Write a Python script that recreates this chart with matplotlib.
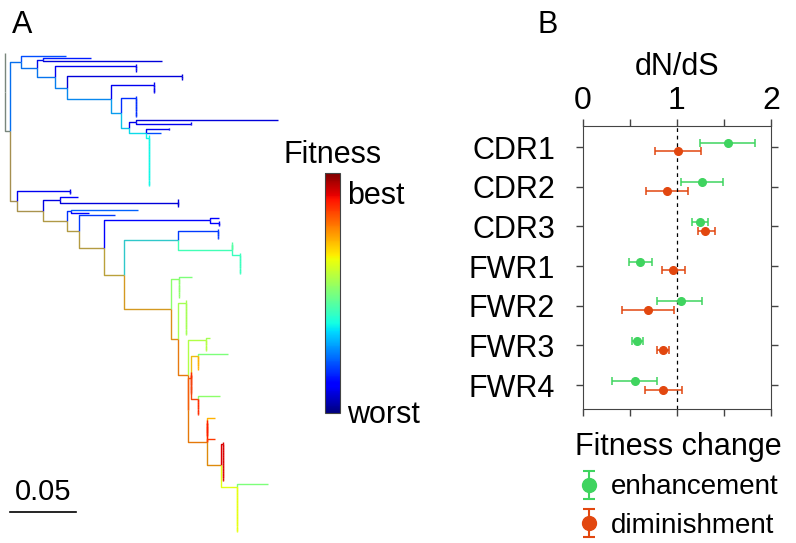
import numpy as np
import matplotlib
matplotlib.use("Agg")
import matplotlib.pyplot as plt
from matplotlib.collections import LineCollection
from matplotlib import transforms

plt.rcParams['font.family'] = ['Liberation Sans', 'DejaVu Sans']

# ---------------- panel B data ----------------
regions = ["CDR1", "CDR2", "CDR3", "FWR1", "FWR2", "FWR3", "FWR4"]
enh_mean = [1.54, 1.27, 1.24, 0.61, 1.04, 0.57, 0.55]
enh_lo = [1.24, 1.04, 1.16, 0.49, 0.79, 0.52, 0.31]
enh_hi = [1.83, 1.49, 1.33, 0.73, 1.27, 0.64, 0.79]
dim_mean = [1.01, 0.89, 1.30, 0.96, 0.69, 0.85, 0.85]
dim_lo = [0.77, 0.67, 1.22, 0.84, 0.41, 0.79, 0.66]
dim_hi = [1.26, 1.12, 1.40, 1.09, 0.97, 0.91, 1.05]

GREEN = "#3fd45f"
ORANGE = "#e2470f"


# ---------------- panel A tree ----------------
# branch lengths in substitutions per site, fitness on a 0 (worst) .. 1 (best) scale
def leaf(L, f):
    return {"len": L, "f": f, "kids": []}


def node(L, *kids):
    return {"len": L, "f": None, "kids": list(kids)}


def comb(L, k, f):
    # ladder of k near-identical sequences
    sub = leaf(0, f)
    for _ in range(k - 1):
        sub = node(0, leaf(0, f), sub)
    sub["len"] = L
    return sub


def star(L, k, f):
    return node(L, *[leaf(0, f) for _ in range(k)])


upper_clade = node(0.008,
    leaf(0.034, 0.20),
    node(0.012,
        node(0.005, leaf(0.036, 0.15), leaf(0.090, 0.08)),
        node(0.014,
            comb(0.061, 4, 0.10),
            node(0.009,
                comb(0.087, 3, 0.08),
                node(0.033,
                    comb(0.033, 5, 0.10),
                    node(0.008,
                        comb(0.011, 9, 0.17),
                        node(0.006,
                            node(0.005, leaf(0.108, 0.08), star(0.042, 2, 0.10)),
                            node(0.013,
                                star(0.017, 2, 0.10),
                                leaf(0.011, 0.20),
                                comb(0.002, 20, 0.37)))))))))

blue_lower = [
    comb(0.040, 3, 0.10),
    node(0.020,
        node(0.013, leaf(0.013, 0.12), star(0.089, 4, 0.08)),
        None),
]

green_clade = node(0.041,
    comb(0.030, 5, 0.18),
    node(0.041, comb(0, 4, 0.45), comb(0.006, 9, 0.42)))

red_clade = node(0.036,
    node(0.006, leaf(0.010, 0.50), comb(0, 8, 0.52)),
    node(0.005,
        comb(0.006, 14, 0.55),
        node(0.008,
            node(0.013, leaf(0.003, 0.55), comb(0, 5, 0.57)),
            node(0,
                node(0.002,
                    node(0.005, leaf(0.023, 0.50), comb(0, 6, 0.72)),
                    comb(0, 9, 0.87),
                    node(0.005, leaf(0.017, 0.52), comb(0, 7, 0.86))),
                node(0.014,
                    leaf(0.006, 0.72),
                    comb(0, 7, 0.88),
                    leaf(0.006, 0.85),
                    node(0.011,
                        comb(0.001, 16, 0.92),
                        node(0.012, leaf(0.023, 0.50), comb(0, 18, 0.63))))))))

blue_lower[1]["kids"][1] = node(0.018,
    node(0.003, leaf(0.051, 0.22), leaf(0.014, 0.12)),
    node(0.009,
        leaf(0.027, 0.18),
        node(0.019,
            node(0.080, leaf(0.007, 0.12), comb(0.007, 3, 0.12)),
            node(0.015, green_clade, red_clade))))

lower_clade = node(0.005, *blue_lower)
tree = node(0, leaf(0, None), node(0.004, upper_clade, lower_clade))

cmap = plt.get_cmap("jet")
leaf_count = [0]


def layout(n, x):
    n["x"] = x + n["len"]
    if not n["kids"]:
        n["y"] = leaf_count[0]
        leaf_count[0] += 1
        n["rgb"] = None if n["f"] is None else np.array(cmap(n["f"])[:3])
        return [n["rgb"]] if n["rgb"] is not None else []
    cols = []
    for k in n["kids"]:
        cols += layout(k, n["x"])
    n["y"] = (n["kids"][0]["y"] + n["kids"][-1]["y"]) / 2
    n["rgb"] = np.mean(cols, axis=0)
    return cols


layout(tree, 0)
segs, seg_cols = [], []


def collect(n):
    for k in n["kids"]:
        c = k["rgb"] if k["rgb"] is not None else n["rgb"]
        segs.append([(n["x"], n["y"]), (n["x"], k["y"]), (k["x"], k["y"])])
        seg_cols.append(c)
        collect(k)


collect(tree)
n_leaves = leaf_count[0]

fig = plt.figure(figsize=(7.96, 5.43), dpi=100)
W, H = 796, 543

ax_t = fig.add_axes([0, 0, 0.4, 1])
ppu = 66 / 0.05
s = (532 - 53) / (n_leaves - 1)
ax_t.add_collection(LineCollection(segs, colors=seg_cols, linewidths=1.0))
ax_t.set_xlim(-5 / ppu, (0.4 * W - 5) / ppu)
ax_t.set_ylim((H - 53) / s, -53 / s)
ax_t.axis("off")

# scale bar
tr = transforms.blended_transform_factory(ax_t.transData, ax_t.transAxes)
x0 = 5 / ppu
ax_t.plot([x0, x0 + 0.05], [1 - 512 / H] * 2, color="black", lw=1.2, transform=tr)
ax_t.text(x0 + 0.025, 1 - 500 / H, "0.05", ha="center", va="baseline",
          fontsize=21, transform=tr)

# colorbar
cax = fig.add_axes([325 / W, 1 - 413 / H, 15 / W, 240 / H])
cb = fig.colorbar(plt.cm.ScalarMappable(cmap=cmap), cax=cax)
cb.set_ticks([])
cb.outline.set_edgecolor("#444444")
fig.text(284 / W, 1 - 163 / H, "Fitness", fontsize=22, va="baseline")
fig.text(347 / W, 1 - 204 / H, "best", fontsize=22, va="baseline")
fig.text(347 / W, 1 - 423 / H, "worst", fontsize=22, va="baseline")

fig.text(12 / W, 1 - 33 / H, "A", fontsize=22, va="baseline")
fig.text(538 / W, 1 - 33 / H, "B", fontsize=22, va="baseline")

# ---------------- panel B ----------------
ax = fig.add_axes([583 / W, 1 - 409 / H, 188 / W, 283 / H])
y = np.arange(len(regions))
em, el, eh = map(np.array, (enh_mean, enh_lo, enh_hi))
dm, dl, dh = map(np.array, (dim_mean, dim_lo, dim_hi))
ax.errorbar(em, y - 0.11, xerr=[em - el, eh - em], fmt="o", color=GREEN,
            ms=5.5, elinewidth=1.1, capsize=3, capthick=1.1)
ax.errorbar(dm, y + 0.11, xerr=[dm - dl, dh - dm], fmt="o", color=ORANGE,
            ms=5.5, elinewidth=1.1, capsize=3, capthick=1.1)
ax.axvline(1, color="black", ls=(0, (3, 3)), lw=0.9)
ax.set_xlim(0, 2)
ax.set_ylim(6.6, -0.53)
ax.set_yticks(y)
ax.set_yticklabels(regions, fontsize=22)
ax.set_xticks([0, 1, 2])
ax.set_xticks([0.5, 1.5], minor=True)
ax.xaxis.set_ticks_position("both")
ax.yaxis.set_ticks_position("both")
ax.tick_params(axis="x", labeltop=True, labelbottom=False, labelsize=23, pad=2)
ax.tick_params(axis="y", pad=15)
ax.tick_params(which="both", direction="out", length=5, width=1, color="#444444")
ax.set_xlabel("dN/dS", fontsize=22, labelpad=8)
ax.xaxis.set_label_position("top")
for sp in ax.spines.values():
    sp.set_color("#444444")

# legend with vertical errorbar glyphs
hg = ax.errorbar([np.nan], [np.nan], yerr=[1], fmt="o", color=GREEN, ms=10,
                 elinewidth=1.5, capsize=4, capthick=1.5)
ho = ax.errorbar([np.nan], [np.nan], yerr=[1], fmt="o", color=ORANGE, ms=10,
                 elinewidth=1.5, capsize=4, capthick=1.5)
leg = fig.legend([hg, ho], ["enhancement", "diminishment"], title="Fitness change",
                 loc="upper left", bbox_to_anchor=(561 / W, 1 - 418 / H),
                 frameon=False, fontsize=20, title_fontsize=22, handlelength=1.0,
                 handletextpad=0.3, borderpad=0, labelspacing=0.45, alignment="left")

fig.savefig("out.png", dpi=100)
